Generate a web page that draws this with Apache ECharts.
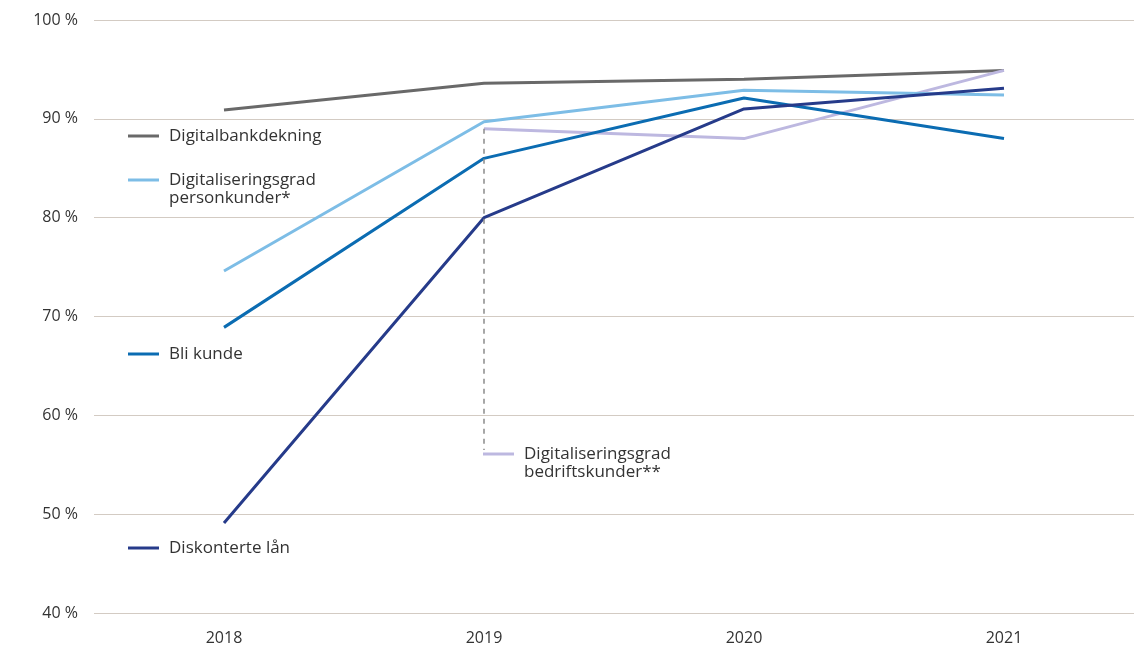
<!DOCTYPE html>
<html lang="no">
<head>
    <meta charset="UTF-8">
    <title>Digitalisering</title>
    <script src="https://cdn.jsdelivr.net/npm/echarts@6/dist/echarts.min.js"></script>
    <style>
        html, body { margin: 0; padding: 0; background: #fff; }
        #chart { width: 1139px; height: 650px; }
    </style>
</head>
<body>
    <div id="chart"></div>
    <script>
        // data
        var years = ['2018', '2019', '2020', '2021'];
        var digitalbank = [90.9, 93.6, 94.0, 94.9];
        var personkunder = [74.6, 89.7, 92.9, 92.4];
        var bliKunde = [68.9, 86.0, 92.1, 88.0];
        var diskonterte = [49.1, 80.0, 91.0, 93.1];
        var bedriftskunder = [null, 89.0, 88.0, 94.9];
        var yTicks = [40, 50, 60, 70, 80, 90, 100];

        var font = 'Open Sans';
        var textColor = '#333';

        // one legend per label, placed next to its line like in the original
        function legendAt(name, left, top, twoLines) {
            return {
                data: [name],
                left: left,
                top: top,
                padding: 0,
                icon: 'rect',
                itemWidth: 31,
                itemHeight: 3,
                itemGap: 0,
                selectedMode: false,
                textStyle: {
                    fontFamily: font,
                    fontSize: 17,
                    color: textColor,
                    lineHeight: 18,
                    padding: [0, 0, 0, 5]
                },
                formatter: function (n) {
                    // first text line sits level with the line sample
                    return twoLines ? '\n' + n.replace(' ', '\n') : n;
                }
            };
        }

        var chart = echarts.init(document.getElementById('chart'));

        var option = {
            animation: false,
            grid: { left: 94, right: 5, top: 20, bottom: 37 },
            legend: [
                legendAt('Digitalbankdekning', 128, 127, false),
                legendAt('Digitaliseringsgrad personkunder*', 128, 153, true),
                legendAt('Bli kunde', 128, 345, false),
                legendAt('Diskonterte lån', 128, 539, false),
                legendAt('Digitaliseringsgrad bedriftskunder**', 483, 427, true)
            ],
            xAxis: {
                type: 'category',
                data: years,
                boundaryGap: true,
                axisLine: { show: false },
                axisTick: { show: false },
                axisLabel: {
                    margin: 17,
                    fontFamily: font,
                    fontSize: 16,
                    color: textColor
                }
            },
            yAxis: {
                type: 'value',
                min: yTicks[0],
                max: yTicks[yTicks.length - 1],
                interval: 10,
                axisLine: { show: false },
                axisTick: { show: false },
                axisLabel: {
                    margin: 16,
                    fontFamily: font,
                    fontSize: 16,
                    color: textColor,
                    formatter: '{value} %'
                },
                splitLine: { lineStyle: { color: '#d3cbc3', width: 1.2 } }
            },
            series: [
                {
                    name: 'Digitalbankdekning',
                    type: 'line',
                    data: digitalbank,
                    showSymbol: false,
                    color: '#696969',
                    lineStyle: { width: 3 }
                },
                {
                    name: 'Digitaliseringsgrad bedriftskunder**',
                    type: 'line',
                    data: bedriftskunder,
                    showSymbol: false,
                    color: '#bdb8e0',
                    lineStyle: { width: 3 },
                    markLine: {
                        silent: true,
                        symbol: 'none',
                        label: { show: false },
                        lineStyle: { color: '#8a8a8a', type: [5, 5], width: 1.5 },
                        data: [[
                            { coord: [years[1], bedriftskunder[1]] },
                            { coord: [years[1], 56.5] }
                        ]]
                    }
                },
                {
                    name: 'Digitaliseringsgrad personkunder*',
                    type: 'line',
                    data: personkunder,
                    showSymbol: false,
                    color: '#7dbde6',
                    lineStyle: { width: 3 }
                },
                {
                    name: 'Bli kunde',
                    type: 'line',
                    data: bliKunde,
                    showSymbol: false,
                    color: '#0b6cb2',
                    lineStyle: { width: 3 }
                },
                {
                    name: 'Diskonterte lån',
                    type: 'line',
                    data: diskonterte,
                    showSymbol: false,
                    color: '#263b8a',
                    lineStyle: { width: 3 }
                }
            ]
        };

        chart.setOption(option);
    </script>
</body>
</html>
